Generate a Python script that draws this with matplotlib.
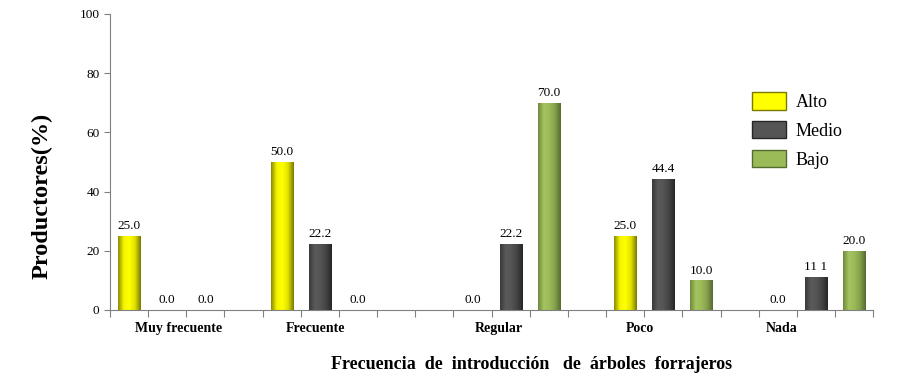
import numpy as np
import matplotlib
matplotlib.use("Agg")
import matplotlib.pyplot as plt
from matplotlib.colors import LinearSegmentedColormap

categories = ["Muy frecuente", "Frecuente", "Regular", "Poco", "Nada"]
series = ["Alto", "Medio", "Bajo"]
alto = [25.0, 50.0, 0.0, 25.0, 0.0]
medio = [0.0, 22.2, 22.2, 44.4, 11.1]
bajo = [0.0, 0.0, 70.0, 10.0, 20.0]
value_text = [["25.0", "50.0", "0.0", "25.0", "0.0"],
              ["0.0", "22.2", "22.2", "44.4", "11 1"],
              ["0.0", "0.0", "70.0", "10.0", "20.0"]]

# first slot of each group on the 20-slot category axis
group_start = [0, 4, 9, 13, 17]
label_pos = [1.8, 5.4, 10.2, 13.9, 17.6]
n_slots = 20

colors = {
    "Alto": ["#8c8c00", "#f5f500", "#ffff00", "#e0e000", "#7a7a00"],
    "Medio": ["#3a3a3a", "#5a5a5a", "#555555", "#444444", "#262626"],
    "Bajo": ["#6f8a3c", "#a6c460", "#9bbb59", "#859f4c", "#556b2f"],
}

plt.rcParams["font.family"] = ["Liberation Serif", "DejaVu Serif"]

fig = plt.figure(figsize=(8.97, 3.82), dpi=100)
ax = fig.add_axes([0.1226, 0.1885, 0.8508, 0.7749])

width = 0.58
for s, (name, vals) in enumerate(zip(series, [alto, medio, bajo])):
    cmap = LinearSegmentedColormap.from_list(name, colors[name])
    grad = np.linspace(0, 1, 64).reshape(1, -1)
    for g, v in enumerate(vals):
        x = group_start[g] + s + 0.5
        bars = ax.bar(x, v, width=width, color=colors[name][2],
                      edgecolor=colors[name][4], linewidth=0.6, zorder=2)
        if v > 0:
            im = ax.imshow(grad, cmap=cmap, aspect="auto",
                           extent=(x - width / 2, x + width / 2, 0, v),
                           zorder=2.5)
            im.set_clip_path(bars[0])
        ax.text(x, v + 1.3, value_text[s][g], ha="center", va="bottom",
                fontsize=9.5, zorder=3)

# legend handles
for name in series:
    ax.bar(np.nan, np.nan, color=colors[name][2], label=name)
leg = ax.legend(loc="upper left", bbox_to_anchor=(0.82, 0.79), frameon=False,
                fontsize=13, handlelength=1.9, handleheight=1.1,
                labelspacing=0.55, handletextpad=0.5)
for patch, name in zip(leg.get_patches(), series):
    patch.set_facecolor(colors[name][2])
    patch.set_edgecolor(colors[name][4])

ax.set_xlim(0, n_slots)
ax.set_ylim(0, 100)
ax.set_yticks(range(0, 101, 20))
ax.set_xticks(range(0, n_slots + 1))
ax.set_xticklabels([])
ax.tick_params(axis="x", length=5, color="#808080")
ax.tick_params(axis="y", length=4, color="#808080", labelsize=9.5)
for g, lab in enumerate(categories):
    ax.text(label_pos[g], -4.0, lab, ha="center", va="top",
            fontsize=10, fontweight="bold")

for side in ["top", "right"]:
    ax.spines[side].set_visible(False)
for side in ["left", "bottom"]:
    ax.spines[side].set_color("#808080")

ax.set_ylabel("Productores(%)", fontsize=17.5, fontweight="bold")
ax.yaxis.set_label_coords(-0.075, 0.385)
fig.text(0.593, 0.035, "Frecuencia  de  introducción   de  árboles  forrajeros",
         ha="center", fontsize=13, fontweight="bold")

fig.savefig("out.png", dpi=100)
